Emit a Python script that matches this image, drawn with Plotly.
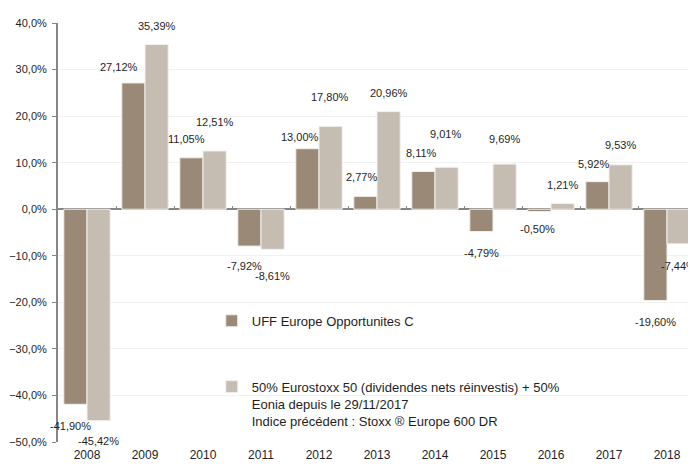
import plotly.graph_objects as go

years = ["2008", "2009", "2010", "2011", "2012", "2013", "2014", "2015", "2016", "2017", "2018"]
fund = [-41.90, 27.12, 11.05, -7.92, 13.00, 2.77, 8.11, -4.79, -0.50, 5.92, -19.60]
bench = [-45.42, 35.39, 12.51, -8.61, 17.80, 20.96, 9.01, 9.69, 1.21, 9.53, -7.44]

fund_name = "UFF Europe Opportunites C"
bench_name = ("50% Eurostoxx 50 (dividendes nets réinvestis) + 50%<br>"
              "Eonia depuis le 29/11/2017<br>"
              "Indice précédent : Stoxx ® Europe 600 DR")

# manual data-label placement as in the original (px: horizontal nudge, gap from bar end)
fund_label_pos = {"2008": (-5, 22), "2009": (-14, 16), "2010": (-5, 19), "2011": (-5, 20),
                  "2012": (-7, 12), "2013": (-4, 19), "2014": (-2, 18), "2015": (0, 21),
                  "2016": (-2, 17), "2017": (-4, 18), "2018": (0, 22)}
bench_label_pos = {"2008": (0, 20), "2009": (0, 18), "2010": (0, 29), "2011": (0, 27),
                   "2012": (-1, 29), "2013": (0, 19), "2014": (-1, 33), "2015": (0, 25),
                   "2016": (0, 19), "2017": (0, 20), "2018": (0, 22)}

FUND_COLOR = "#9a8977"
BENCH_COLOR = "#c5bcb2"
AXIS_COLOR = "#868686"
TEXT_COLOR = "#1e1e1e"
FONT = "Liberation Sans, Arial, sans-serif"

# the page body adds an 8px margin, so the figure is sized to fill the rest
W, H = 688, 456
ML, MR, MT, MB = 50, 0, 15, 22
BARGAP = 0.2
plot_w = W - ML - MR
cat_px = plot_w / len(years)
bar_off = (1 - BARGAP) / 4 * cat_px
xrange = [-0.5, len(years) - 0.5]


def fmt(v):
    return f"{v:.2f}".replace(".", ",") + "%"


fig = go.Figure()
fig.add_trace(go.Bar(x=years, y=fund, name=fund_name, marker_color=FUND_COLOR,
                     marker_line=dict(color="#f3f0ed", width=1), legendgroup="a"))
fig.add_trace(go.Bar(x=years, y=bench, name=bench_name, marker_color=BENCH_COLOR,
                     marker_line=dict(color="#f3f0ed", width=1), legendgroup="b"))
# invisible helper trace for the category tick marks on the zero line
fig.add_trace(go.Scatter(x=years, y=[0] * len(years), xaxis="x2", mode="markers",
                         marker=dict(opacity=0), showlegend=False, hoverinfo="skip"))

for series, sign, pos in ((fund, -1, fund_label_pos), (bench, 1, bench_label_pos)):
    for i, (yr, v) in enumerate(zip(years, series)):
        dx, gap = pos[yr]
        fig.add_annotation(x=i, y=v, xref="x", yref="y", text=fmt(v), showarrow=False,
                           xshift=sign * bar_off + dx, yshift=gap if v >= 0 else -gap,
                           yanchor="middle", xanchor="center",
                           font=dict(family=FONT, size=11, color=TEXT_COLOR))

ymin, ymax = -50, 40
fig.update_layout(
    width=W, height=H,
    margin=dict(l=ML, r=MR, t=MT, b=MB, autoexpand=False),
    paper_bgcolor="white", plot_bgcolor="white",
    barmode="group", bargap=BARGAP, bargroupgap=0,
    separators=", ",
    font=dict(family=FONT, color=TEXT_COLOR),
    showlegend=True,
    legend=dict(x=0.241, y=0.325, xanchor="left", yanchor="top",
                bgcolor="rgba(0,0,0,0)", font=dict(size=13, color=TEXT_COLOR),
                traceorder="grouped", tracegroupgap=46, valign="top"),
    xaxis=dict(type="category", categoryorder="array", categoryarray=years,
               range=xrange, showline=False, showgrid=False, zeroline=False,
               ticks="outside", ticklen=2, tickcolor="white", automargin=False,
               tickfont=dict(size=12, color=TEXT_COLOR), fixedrange=True),
    xaxis2=dict(type="category", categoryorder="array", categoryarray=years,
                range=xrange, overlaying="x", anchor="free",
                position=(0 - ymin) / (ymax - ymin), side="bottom",
                showline=False, showgrid=False, zeroline=False,
                showticklabels=False, ticks="inside", ticklen=3,
                tickcolor=AXIS_COLOR, tickwidth=1, tickson="boundaries",
                fixedrange=True),
    yaxis=dict(range=[ymin, ymax], dtick=10, tickformat=".1f", ticksuffix="%",
               showline=True, linecolor=AXIS_COLOR, linewidth=2,
               showgrid=True, gridcolor="#f1f1f1", gridwidth=1,
               zeroline=True, zerolinecolor=AXIS_COLOR, zerolinewidth=2,
               ticks="outside", ticklen=4, tickcolor=AXIS_COLOR, automargin=False,
               ticklabelstandoff=3,
               tickfont=dict(size=11, color=TEXT_COLOR), fixedrange=True),
)

fig.write_html("out.html")
